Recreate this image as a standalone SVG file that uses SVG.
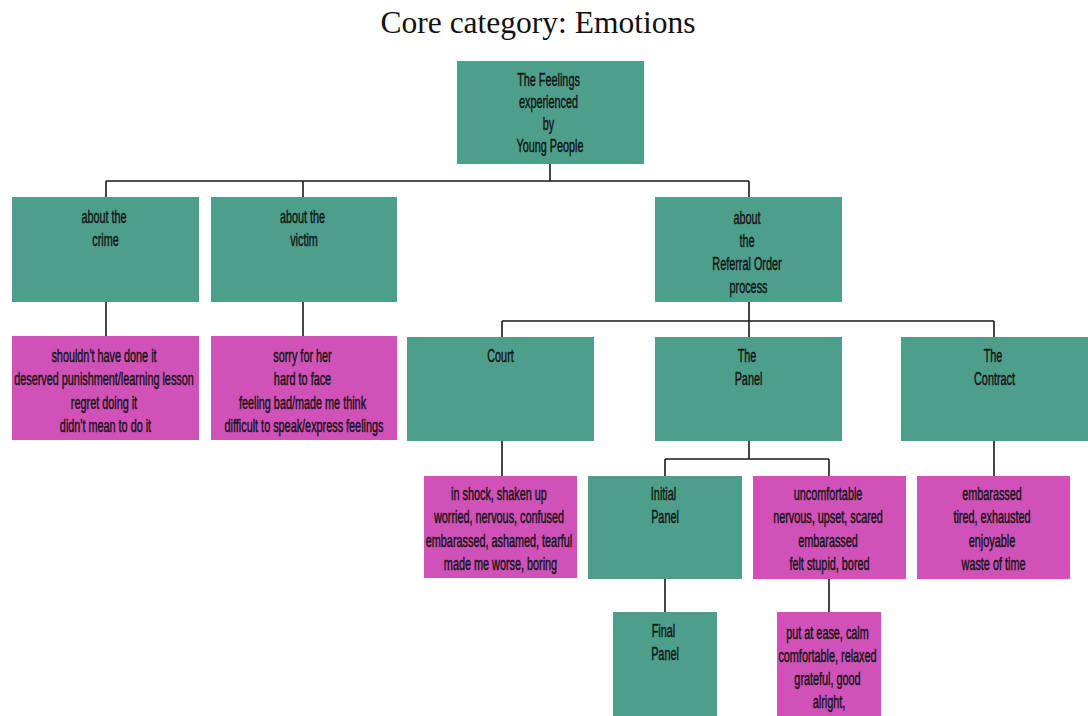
<svg xmlns="http://www.w3.org/2000/svg" width="1088" height="716" viewBox="0 0 1088 716">
  <style>
    .title { font-family: "Liberation Serif", "Times New Roman", serif; font-size: 31.5px; fill: #111; }
    .teal { fill: #4d9f8c; }
    .pink { fill: #d052b8; }
    .lbl { font-family: "Liberation Sans", Arial, sans-serif; font-size: 17.5px; fill: #141414; stroke: #141414; stroke-width: 0.45; text-anchor: middle; }
    .conn { stroke: #1a1a1a; stroke-width: 1.6; fill: none; }
  </style>
  <rect width="1088" height="716" fill="#ffffff"/>

  <text class="title" x="538" y="33" text-anchor="middle">Core category: Emotions</text>

  <!-- connectors -->
  <g id="connectors">
    <path class="conn" d="M550,164 V181 M106,181 H749 M106,181 V197 M303,181 V197 M749,181 V197"/>
    <path class="conn" d="M106,302 V336 M303,302 V336"/>
    <path class="conn" d="M749,302 V321 M502,321 H994 M502,321 V337 M749,321 V337 M994,321 V337"/>
    <path class="conn" d="M502,441 V476 M994,441 V476"/>
    <path class="conn" d="M749,441 V459 M665,459 H829 M665,459 V476 M829,459 V476"/>
    <path class="conn" d="M665,579 V612 M829,579 V612"/>
  </g>

  <!-- root -->
  <g id="feelings">
    <rect class="teal" x="457" y="61" width="187" height="103"/>
    <text class="lbl" transform="translate(550,86) scale(0.62,1)">
      <tspan x="0" dy="0">The Feelings</tspan>
      <tspan x="0" dy="22">experienced</tspan>
      <tspan x="0" dy="22">by</tspan>
      <tspan x="0" dy="22">Young People</tspan>
    </text>
  </g>

  <!-- first level -->
  <g id="about-crime">
    <rect class="teal" x="12" y="197" width="187" height="105"/>
    <text class="lbl" transform="translate(105.5,223) scale(0.62,1)">
      <tspan x="0" dy="0">about the</tspan>
      <tspan x="0" dy="23">crime</tspan>
    </text>
  </g>
  <g id="about-victim">
    <rect class="teal" x="211" y="197" width="186" height="105"/>
    <text class="lbl" transform="translate(304,223) scale(0.62,1)">
      <tspan x="0" dy="0">about the</tspan>
      <tspan x="0" dy="23">victim</tspan>
    </text>
  </g>
  <g id="about-referral">
    <rect class="teal" x="655" y="197" width="187" height="105"/>
    <text class="lbl" transform="translate(748.5,224) scale(0.62,1)">
      <tspan x="0" dy="0">about</tspan>
      <tspan x="0" dy="23">the</tspan>
      <tspan x="0" dy="23">Referral Order</tspan>
      <tspan x="0" dy="23">process</tspan>
    </text>
  </g>

  <!-- feelings about the crime / victim -->
  <g id="crime-feelings">
    <rect class="pink" x="12" y="336" width="187" height="104"/>
    <text class="lbl" transform="translate(105.5,362) scale(0.62,1)">
      <tspan x="0" dy="0">shouldn't have done it</tspan>
      <tspan x="0" dy="23.3">deserved punishment/learning lesson</tspan>
      <tspan x="0" dy="23.3">regret doing it</tspan>
      <tspan x="0" dy="23.3">didn't mean to do it</tspan>
    </text>
  </g>
  <g id="victim-feelings">
    <rect class="pink" x="211" y="336" width="186" height="104"/>
    <text class="lbl" transform="translate(304,362) scale(0.62,1)">
      <tspan x="0" dy="0">sorry for her</tspan>
      <tspan x="0" dy="23.3">hard to face</tspan>
      <tspan x="0" dy="23.3">feeling bad/made me think</tspan>
      <tspan x="0" dy="23.3">difficult to speak/express feelings</tspan>
    </text>
  </g>

  <!-- referral order stages -->
  <g id="court">
    <rect class="teal" x="407" y="337" width="187" height="104"/>
    <text class="lbl" transform="translate(500.5,362) scale(0.62,1)">
      <tspan x="0" dy="0">Court</tspan>
    </text>
  </g>
  <g id="panel">
    <rect class="teal" x="655" y="337" width="187" height="104"/>
    <text class="lbl" transform="translate(748.5,362) scale(0.62,1)">
      <tspan x="0" dy="0">The</tspan>
      <tspan x="0" dy="23">Panel</tspan>
    </text>
  </g>
  <g id="contract">
    <rect class="teal" x="901" y="337" width="187" height="104"/>
    <text class="lbl" transform="translate(994.5,362) scale(0.62,1)">
      <tspan x="0" dy="0">The</tspan>
      <tspan x="0" dy="23">Contract</tspan>
    </text>
  </g>

  <g id="court-feelings">
    <rect class="pink" x="424" y="476" width="153" height="102"/>
    <text class="lbl" transform="translate(500.5,500) scale(0.62,1)">
      <tspan x="0" dy="0">in shock, shaken up</tspan>
      <tspan x="0" dy="23.3">worried, nervous, confused</tspan>
      <tspan x="0" dy="23.3">embarassed, ashamed, tearful</tspan>
      <tspan x="0" dy="23.3">made me worse, boring</tspan>
    </text>
  </g>
  <g id="initial-panel">
    <rect class="teal" x="588" y="476" width="154" height="103"/>
    <text class="lbl" transform="translate(665,500) scale(0.62,1)">
      <tspan x="0" dy="0">Initial</tspan>
      <tspan x="0" dy="23">Panel</tspan>
    </text>
  </g>
  <g id="initial-panel-feelings">
    <rect class="pink" x="753" y="476" width="153" height="103"/>
    <text class="lbl" transform="translate(829.5,500) scale(0.62,1)">
      <tspan x="0" dy="0">uncomfortable</tspan>
      <tspan x="0" dy="23.3">nervous, upset, scared</tspan>
      <tspan x="0" dy="23.3">embarassed</tspan>
      <tspan x="0" dy="23.3">felt stupid, bored</tspan>
    </text>
  </g>
  <g id="contract-feelings">
    <rect class="pink" x="917" y="476" width="153" height="103"/>
    <text class="lbl" transform="translate(993.5,500) scale(0.62,1)">
      <tspan x="0" dy="0">embarassed</tspan>
      <tspan x="0" dy="23.3">tired, exhausted</tspan>
      <tspan x="0" dy="23.3">enjoyable</tspan>
      <tspan x="0" dy="23.3">waste of time</tspan>
    </text>
  </g>

  <g id="final-panel">
    <rect class="teal" x="613" y="612" width="104" height="104"/>
    <text class="lbl" transform="translate(665,637) scale(0.62,1)">
      <tspan x="0" dy="0">Final</tspan>
      <tspan x="0" dy="23">Panel</tspan>
    </text>
  </g>
  <g id="final-panel-feelings">
    <rect class="pink" x="777" y="612" width="104" height="104"/>
    <text class="lbl" transform="translate(829,639) scale(0.62,1)">
      <tspan x="0" dy="0">put at ease, calm</tspan>
      <tspan x="0" dy="23">comfortable, relaxed</tspan>
      <tspan x="0" dy="23">grateful, good</tspan>
      <tspan x="0" dy="23">alright,</tspan>
    </text>
  </g>
</svg>
